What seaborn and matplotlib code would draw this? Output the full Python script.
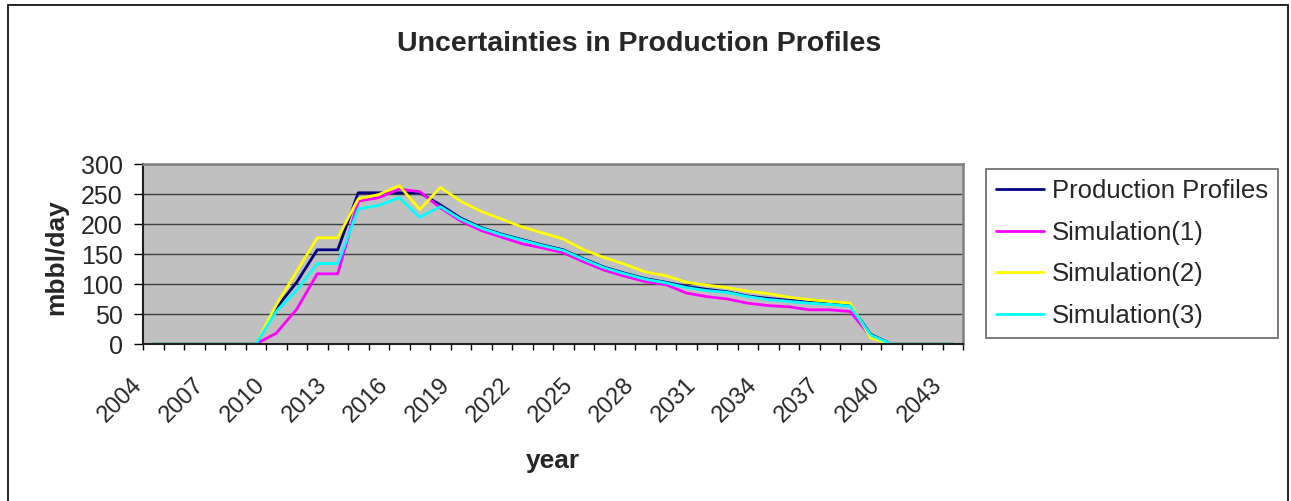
import pandas as pd
import matplotlib
matplotlib.use("Agg")
import matplotlib.pyplot as plt
import matplotlib.transforms as mtransforms
import seaborn as sns
from matplotlib.patches import Rectangle

years = list(range(2004, 2044))

production = [0, 0, 0, 0, 0, 0, 60, 103, 157, 157, 252, 252, 252, 252, 232, 210, 194, 183,
              174, 165, 157, 142, 128, 118, 109, 103, 96, 91, 87, 80, 76, 73, 70, 67, 64, 16,
              0, 0, 0, 0]
simulation1 = [0, 0, 0, 0, 0, 0, 18, 58, 117, 117, 238, 244, 258, 254, 227, 205, 189, 178,
               167, 160, 152, 137, 123, 113, 104, 99, 85, 79, 75, 68, 64, 62, 57, 57, 54, 12,
               0, 0, 0, 0]
simulation2 = [0, 0, 0, 0, 0, 0, 65, 121, 177, 177, 242, 249, 264, 224, 261, 238, 221, 208,
               195, 185, 175, 157, 144, 133, 120, 114, 103, 98, 94, 88, 84, 78, 74, 71, 68, 10,
               0, 0, 0, 0]
simulation3 = [0, 0, 0, 0, 0, 0, 54, 90, 134, 134, 225, 231, 244, 211, 229, 208, 193, 182,
               173, 164, 156, 141, 127, 117, 108, 102, 94, 89, 86, 79, 74, 71, 68, 66, 63, 15,
               0, 0, 0, 0]

series_names = ["Production Profiles", "Simulation(1)", "Simulation(2)", "Simulation(3)"]
series_colors = ["#000080", "#FF00FF", "#FFFF00", "#00FFFF"]

# long-form table for seaborn
frames = []
for name, vals in zip(series_names, [production, simulation1, simulation2, simulation3]):
    frames.append(pd.DataFrame({"year": years, "value": vals, "series": name}))
df = pd.concat(frames, ignore_index=True)

sns.set_theme(style="white")
plt.rcParams["font.family"] = ["Liberation Sans", "DejaVu Sans"]

fig = plt.figure(figsize=(12.91, 5.01), dpi=100)
ax = fig.add_axes([143 / 1291, 157 / 501, 820 / 1291, 180 / 501])
ax.set_facecolor("#C0C0C0")

sns.lineplot(data=df, x="year", y="value", hue="series", hue_order=series_names,
             palette=series_colors, linewidth=2, ax=ax, legend=True)

ax.set_xlim(years[0] - 0.5, years[-1] + 0.5)
ax.set_ylim(0, 300)
ax.set_yticks([0, 50, 100, 150, 200, 250, 300])
ax.yaxis.grid(True, color="#404040", linewidth=1)
ax.set_axisbelow(True)

# category ticks between years, labels every third year
ax.set_xticks(years[::3])
ax.set_xticks([y - 0.5 for y in years] + [years[-1] + 0.5], minor=True)
ax.tick_params(axis="x", which="major", length=0, pad=27, labelsize=17)
ax.tick_params(axis="x", which="minor", length=4.5, width=1, color="black", direction="out", bottom=True)
ax.tick_params(axis="y", length=6.5, width=1, color="black", direction="out", left=True,
               labelsize=18, pad=8)
ax.set_xticklabels([str(y) for y in years[::3]])
shift = mtransforms.ScaledTranslation(-14 / 100, 0, fig.dpi_scale_trans)
for lab in ax.get_xticklabels():
    lab.set_rotation(45)
    lab.set_rotation_mode("anchor")
    lab.set_ha("right")
    lab.set_va("center")
    lab.set_fontsize(17)
    lab.set_transform(lab.get_transform() + shift)

for side in ["top", "right"]:
    ax.spines[side].set_color("#808080")
    ax.spines[side].set_linewidth(1.8)
for side in ["left", "bottom"]:
    ax.spines[side].set_color("#202020")
    ax.spines[side].set_linewidth(1.5)

ax.set_xlabel("year", fontsize=19, fontweight="bold", va="center")
ax.xaxis.set_label_coords(0.5, -0.65)
ax.set_ylabel("mbbl/day", fontsize=19, fontweight="bold", va="center")
ax.yaxis.set_label_coords(-0.106, 0.48)

fig.text(639 / 1291, 1 - 44 / 501, "Uncertainties in Production Profiles",
         ha="center", va="center", fontsize=20.5, fontweight="bold")

handles, labels = ax.get_legend_handles_labels()
ax.legend(handles, labels, loc="upper left", bbox_to_anchor=(986 / 1291, 1 - 169 / 501),
          bbox_transform=fig.transFigure, borderaxespad=0, fontsize=18.5, frameon=True,
          fancybox=False, edgecolor="#404040", handlelength=1.85, labelspacing=0.68,
          borderpad=0.4, handletextpad=0.3)
ax.get_legend().get_frame().set_linewidth(1.2)
for line in ax.get_legend().get_lines():
    line.set_linewidth(2)

# outer chart border
fig.patches.append(Rectangle((8 / 1291, -0.01), 1280 / 1291, 1 - 5 / 501 + 0.01,
                             transform=fig.transFigure, fill=False, edgecolor="black",
                             linewidth=1.2))

fig.savefig("out.png", dpi=100)
